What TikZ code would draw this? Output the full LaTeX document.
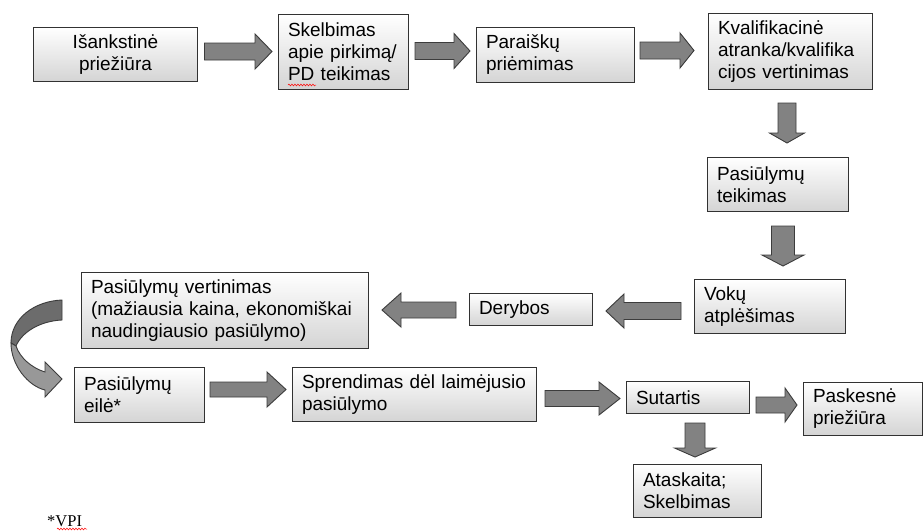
\documentclass[tikz,border=0pt]{standalone}
\usepackage{fontspec}
\setmainfont{Liberation Sans}
\newfontfamily\timesf{Liberation Serif}
\usetikzlibrary{calc,decorations.pathmorphing}
\definecolor{boxline}{RGB}{50,50,50}
\definecolor{boxbot}{RGB}{212,212,212}
\definecolor{arrfill}{RGB}{130,130,130}
\definecolor{arrline}{RGB}{60,60,60}
\definecolor{curvtop}{RGB}{108,108,108}
\definecolor{curvbot}{RGB}{152,152,152}
\tikzset{
  box/.style={draw=boxline, line width=1pt, top color=white, bottom color=boxbot,
    anchor=north west, inner xsep=9.5pt, inner ysep=0pt,
    font=\fontsize{19}{22}\selectfont, align=left},
  barrow/.style={draw=arrline, line width=0.9pt, fill=arrfill, line join=miter},
  spell/.style={draw=red, line width=0.5pt, decorate,
    decoration={snake, amplitude=0.9pt, segment length=3pt}},
}
% right arrow: src, dst, y, gap1, gap2, head length, head half, shaft half
\newcommand\rarr[8]{\draw[barrow] let \p1=(#1.east), \p2=(#2.west) in
  (\x1+#4pt,-#3pt+#8pt) -- (\x2-#5pt-#6pt,-#3pt+#8pt) -- (\x2-#5pt-#6pt,-#3pt+#7pt)
  -- (\x2-#5pt,-#3pt) -- (\x2-#5pt-#6pt,-#3pt-#7pt) -- (\x2-#5pt-#6pt,-#3pt-#8pt)
  -- (\x1+#4pt,-#3pt-#8pt) -- cycle;}
% left arrow
\newcommand\larr[8]{\draw[barrow] let \p1=(#1.west), \p2=(#2.east) in
  (\x1-#4pt,-#3pt+#8pt) -- (\x2+#5pt+#6pt,-#3pt+#8pt) -- (\x2+#5pt+#6pt,-#3pt+#7pt)
  -- (\x2+#5pt,-#3pt) -- (\x2+#5pt+#6pt,-#3pt-#7pt) -- (\x2+#5pt+#6pt,-#3pt-#8pt)
  -- (\x1-#4pt,-#3pt-#8pt) -- cycle;}
% down arrow: src, dst, x, ...
\newcommand\darr[8]{\draw[barrow] let \p1=(#1.south), \p2=(#2.north) in
  (#3pt-#8pt,\y1-#4pt) -- (#3pt-#8pt,\y2+#5pt+#6pt) -- (#3pt-#7pt,\y2+#5pt+#6pt)
  -- (#3pt,\y2+#5pt) -- (#3pt+#7pt,\y2+#5pt+#6pt) -- (#3pt+#8pt,\y2+#5pt+#6pt)
  -- (#3pt+#8pt,\y1-#4pt) -- cycle;}
\begin{document}
\begin{tikzpicture}[x=1pt,y=-1pt]
\useasboundingbox[fill=white] (0,0) rectangle (924,531);

% boxes
\node[box, align=center, minimum width=164pt, minimum height=54pt, text width=145pt] (pre) at (33,27) {Išankstinė\\priežiūra};
\node[box, minimum width=130pt, minimum height=75pt, text width=111pt] (skel) at (278,14) {Skelbimas\\apie pirkimą/\\PD teikimas};
\node[box, minimum width=158pt, minimum height=55pt, text width=139pt] (par) at (476,27) {Paraiškų\\priėmimas};
\node[box, minimum width=164pt, minimum height=76pt, text width=145pt] (kval) at (708,13) {Kvalifikacinė\\atranka/kvalifika\\cijos vertinimas};
\node[box, minimum width=141pt, minimum height=54pt, text width=122pt] (teik) at (707,157) {Pasiūlymų\\teikimas};
\node[box, minimum width=151pt, minimum height=54pt, text width=132pt] (vok) at (694,279) {Vokų\\atplėšimas};
\node[box, minimum width=123pt, minimum height=32pt, text width=104pt] (der) at (469,293) {Derybos};
\node[box, minimum width=287pt, minimum height=76pt, text width=268pt] (vert) at (81,272) {Pasiūlymų vertinimas\\(mažiausia kaina, ekonomiškai\\naudingiausio pasiūlymo)};
\node[box, minimum width=130pt, minimum height=55pt, text width=111pt] (eile) at (74,367) {Pasiūlymų\\eilė*};
\node[box, minimum width=244pt, minimum height=54pt, text width=225pt] (spr) at (292,367) {Sprendimas dėl laimėjusio\\pasiūlymo};
\node[box, minimum width=123pt, minimum height=32pt, text width=104pt] (sut) at (626,381) {Sutartis};
\node[box, minimum width=119pt, minimum height=53pt, text width=100pt] (pask) at (803,382) {Paskesnė\\priežiūra};
\node[box, minimum width=128pt, minimum height=53pt, text width=109pt] (atas) at (633,464) {Ataskaita;\\Skelbimas};

% block arrows
\rarr{pre}{skel}{51.5}{6.5}{6}{17}{17.5}{8.5}
\rarr{skel}{par}{51}{6}{6}{16}{17.5}{8.5}
\rarr{par}{kval}{50.5}{5}{14}{14}{17.5}{8.5}
\darr{kval}{teik}{787}{13}{14}{10}{17.5}{9}
\darr{teik}{vok}{783}{14}{13}{11}{21}{11.5}
\larr{vok}{der}{311}{13}{13}{18}{17}{8.5}
\larr{der}{vert}{310}{13}{13}{19}{17}{8}
\rarr{eile}{spr}{389.5}{5}{6}{19}{17.5}{7.5}
\rarr{spr}{sut}{398.5}{8}{6}{21}{16.5}{8}
\rarr{sut}{pask}{405}{6}{6}{12}{17}{8}
\darr{sut}{atas}{695}{9}{7}{9}{20.5}{10}

% curved arrow from vert to eile
\draw[draw=arrline, line width=0.9pt, fill=curvtop, line join=miter]
  (62,300) .. controls (35,301) and (11,318) .. (11,343)
  -- (16,346) .. controls (22,332) and (40,321) .. (62,320) -- cycle;
\draw[draw=arrline, line width=0.9pt, fill=curvbot, line join=miter]
  (11,343) .. controls (11,365) and (28,386) .. (45,390)
  -- (45,397) -- (62,379) -- (45,362) -- (45,372)
  .. controls (32,368) and (20,358) .. (16,346) -- cycle;

% spelling marks and footnote
\draw[spell] (288,85) -- (316,85);
\node[anchor=base west, inner sep=0pt, font=\timesf\fontsize{16.5}{18}\selectfont] (vpi) at (47,526) {*VPI};
\draw[spell] (57,529) -- (87,529);
\end{tikzpicture}
\end{document}
